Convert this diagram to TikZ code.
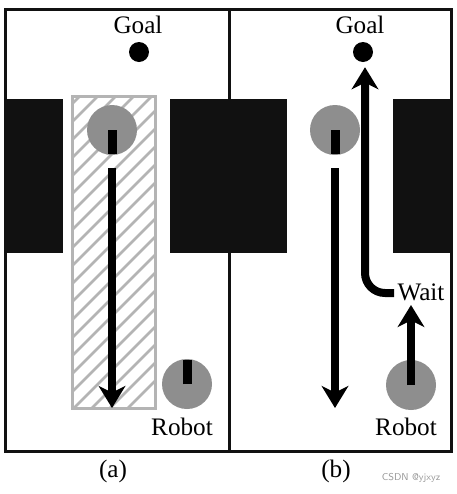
\documentclass[tikz,border=0pt]{standalone}
\usepackage{fontspec}
\setmainfont{Liberation Serif}
\usepackage{tikz}
\usetikzlibrary{arrows.meta, positioning, calc}
\definecolor{wallblack}{HTML}{111111}
\definecolor{robotgray}{HTML}{8E8E8E}
\definecolor{hatchgray}{HTML}{B4B4B4}
\definecolor{markgray}{HTML}{9A9A9A}

\begin{document}
\begin{tikzpicture}[x=0.03cm, y=-0.03cm,
    wall/.style={fill=wallblack, draw=none},
    goaldot/.style={circle, fill=black, inner sep=0pt, minimum size=0.6cm},
    robotbody/.style={circle, fill=robotgray, inner sep=0pt, minimum size=1.5cm},
    heading/.style={line width=0.27cm, black},
    pathline/.style={line width=0.24cm, black,
        -{Stealth[length=0.66cm, width=0.8cm, inset=0.2cm]}},
    lbl/.style={font=\fontsize{21.5}{24}\selectfont, inner sep=0pt}]

    \useasboundingbox (0,0) rectangle (457,494);
    \fill[white] (0,0) rectangle (457,494);

    % =================================================================
    % LAYER 1: THE WALLS
    % =================================================================
    \fill[wall] (5,99) rectangle (63,253);
    \fill[wall] (170,99) rectangle (229,253);
    \fill[wall] (229,99) rectangle (287,253);
    \fill[wall] (393,99) rectangle (451,253);

    % =================================================================
    % LAYER 2: THE FRAMES
    % =================================================================
    \draw[line width=0.09cm, wallblack] (5,9) rectangle (451,451);
    \draw[line width=0.09cm, wallblack] (229,9) -- (229,451);

    % =================================================================
    % LAYER 3: PANEL (a)
    % =================================================================
    \fill[white] (72,96) rectangle (155,408);
    \begin{scope}
        \clip (72,96) rectangle (155,408);
        \foreach \k in {0,...,22} {
            \draw[hatchgray, line width=0.08cm] (40,{100+18*\k}) -- ++(140,-140);
        }
    \end{scope}
    \draw[hatchgray, line width=0.09cm] (72,96) rectangle (155,408);

    \node[goaldot] (goalA) at (139,52) {};
    \node[lbl] (goalAtext) at (138,25) {Goal};

    \node[robotbody] (ghostA) at (112,130) {};
    \draw[heading] (ghostA.center) -- (112,154);

    \coordinate (startA) at (112,168);
    \coordinate (endA) at (112,408);
    \draw[pathline] (startA) -- (endA);

    \node[robotbody] (robotA) at (187,384) {};
    \draw[heading] (robotA.center) -- (187,360);
    \node[lbl] (robotAtext) at (182,427) {Robot};

    \node[lbl] (capA) at (113,471) {(a)};

    % =================================================================
    % LAYER 4: PANEL (b)
    % =================================================================
    \node[goaldot] (goalB) at (363,52) {};
    \node[lbl] (goalBtext) at (360,25) {Goal};

    \node[robotbody] (ghostB) at (335,130) {};
    \draw[heading] (ghostB.center) -- (335,154);

    \coordinate (startB) at (335,168);
    \coordinate (endB) at (335,408);
    \draw[pathline] (startB) -- (endB);

    \node[lbl] (waitB) at (421,292) {Wait};
    \coordinate (turnB) at (394,293);
    \draw[pathline, rounded corners=0.6cm] (turnB) -| ($(goalB.south)+(2,5)$);

    \node[robotbody] (robotB) at (411,385) {};
    \coordinate (stopB) at (411,305);
    \draw[pathline] (robotB.center) -- (stopB);
    \node[lbl] (robotBtext) at (406,427) {Robot};

    \node[lbl] (capB) at (336,471) {(b)};

    \node[markgray, font=\sffamily\fontsize{8.5}{10}\selectfont] (mark) at (411,478) {CSDN @yjxyz};

\end{tikzpicture}
\end{document}
